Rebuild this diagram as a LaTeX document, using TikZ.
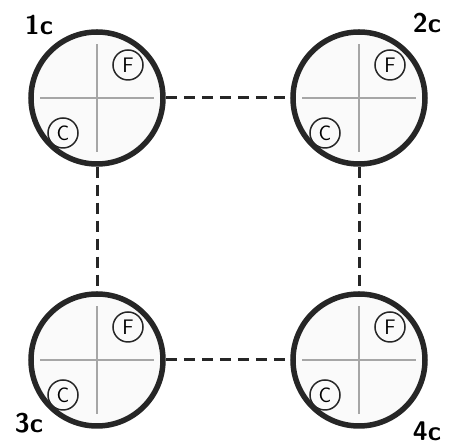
\documentclass[tikz,border=0pt]{standalone}
\usepackage{tikz}
\usetikzlibrary{positioning}
\tikzset{
  room/.style={
    circle,
    draw=black!85, line width=5.5pt,
    fill=black!2,
    minimum size=132pt,
    inner sep=0pt,
  },
  tag/.style={
    circle,
    draw=black!85, line width=1.5pt,
    minimum size=30pt,
    inner sep=0pt,
    font=\fontsize{21}{21}\selectfont\sffamily,
  },
  cross/.style={draw=black!35, line width=1.3pt},
  link/.style={draw=black!85, line width=3pt, dash pattern=on 11pt off 7pt},
  corner/.style={font=\fontsize{27}{27}\selectfont\sffamily\bfseries, inner sep=0pt},
}

\begin{document}
\begin{tikzpicture}
  \useasboundingbox (0,0) rectangle (451pt,444pt);
  \node[room] (c1) at (97pt,346pt) {};
  \node[room, right of=c1, node distance=262pt] (c2) {};
  \node[room, below of=c1, node distance=262pt] (c3) {};
  \node[room, right of=c3, node distance=262pt] (c4) {};
  % cross hairs and the two small marks
  \foreach \r in {c1,c2,c3,c4} {
    \path[cross] ([xshift=-57pt]\r.center) -- ([xshift=57pt]\r.center)
                 ([yshift=-54pt]\r.center) -- ([yshift=54pt]\r.center);
    \node[tag] (\r F) at ([shift={(31pt,33pt)}]\r.center) {F};
    \node[tag] (\r C) at ([shift={(-34pt,-35pt)}]\r.center) {C};
  }
  % links
  \path[link] (c1) -- (c2);
  \path[link] (c3) -- (c4);
  \path[link] (c1) -- (c3);
  \path[link] (c2) -- (c4);
  \node[corner] (l1) at (39pt,419pt) {1c};
  \node[corner] (l2) at (427pt,421pt) {2c};
  \node[corner] (l3) at (29pt,21pt) {3c};
  \node[corner] (l4) at (427pt,13pt) {4c};
\end{tikzpicture}
\end{document}
